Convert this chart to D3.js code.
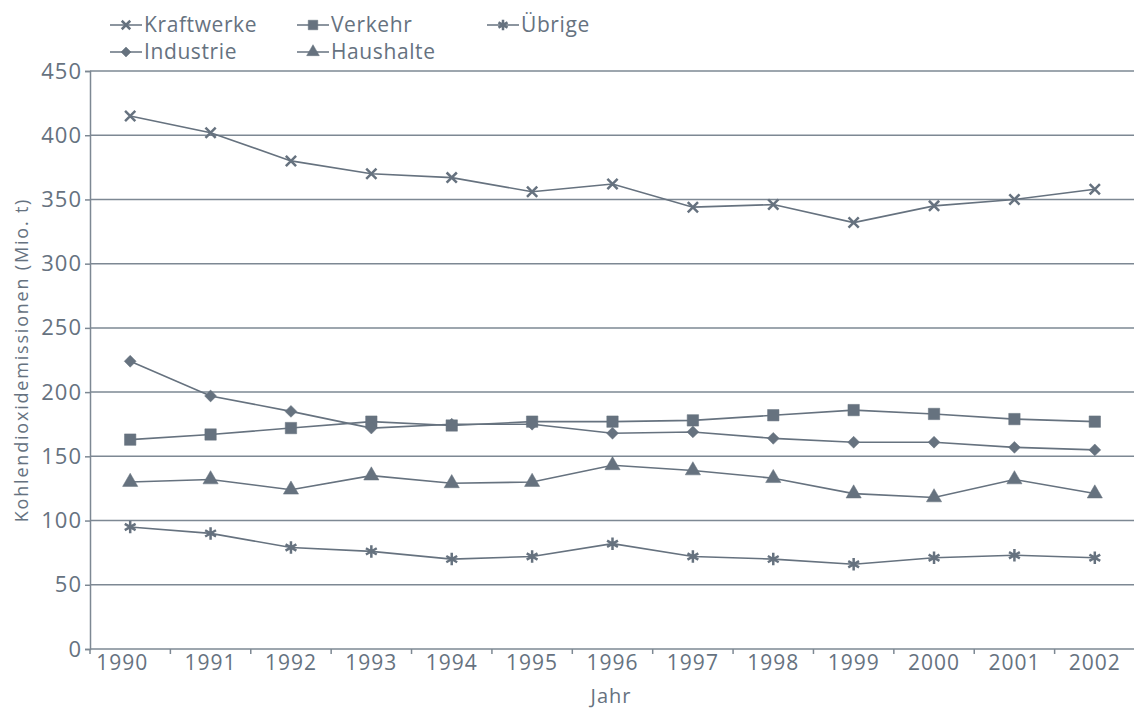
<!DOCTYPE html>
<html>
<head>
<meta charset="utf-8">
<script src="https://cdn.jsdelivr.net/npm/d3@7"></script>
<style>
  body { margin: 0; background: #fff; }
  text { font-family: "Open Sans", Lato, sans-serif; fill: #66727f; }
</style>
</head>
<body>
<div id="chart"></div>
<script>
(function(d3) {
'use strict';

var years = ['1990','1991','1992','1993','1994','1995','1996','1997','1998','1999','2000','2001','2002'];
var kraftwerke = [415, 402, 380, 370, 367, 356, 362, 344, 346, 332, 345, 350, 358];
var verkehr    = [163, 167, 172, 177, 174, 177, 177, 178, 182, 186, 183, 179, 177];
var industrie  = [224, 197, 185, 172, 175, 175, 168, 169, 164, 161, 161, 157, 155];
var haushalte  = [130, 132, 124, 135, 129, 130, 143, 139, 133, 121, 118, 132, 121];
var uebrige    = [95, 90, 79, 76, 70, 72, 82, 72, 70, 66, 71, 73, 71];
var yTicks = [0, 50, 100, 150, 200, 250, 300, 350, 400, 450];

var series = [
  { name: 'Kraftwerke', values: kraftwerke, symbol: d3.symbolTimes, size: 70, stroke: true },
  { name: 'Verkehr', values: verkehr, symbol: d3.symbolSquare, size: 130, stroke: false },
  { name: 'Übrige', values: uebrige, symbol: d3.symbolAsterisk, size: 110, stroke: true },
  { name: 'Industrie', values: industrie, symbol: d3.symbolDiamond2, size: 90, stroke: false },
  { name: 'Haushalte', values: haushalte, symbol: d3.symbolTriangle, size: 100, stroke: false }
];

var color = '#66727f';
var gridColor = '#7d8893';
var width = 1134, height = 711;
var margin = { left: 90, right: 0, top: 71, bottom: 62 };

var svg = d3.select('#chart').append('svg')
  .attr('width', width)
  .attr('height', height);

var x = d3.scaleBand()
  .domain(years)
  .range([margin.left, 1135]);

var y = d3.scaleLinear()
  .domain([0, 450])
  .range([height - margin.bottom, margin.top]);

// gridlines
svg.append('g')
  .selectAll('line')
  .data(yTicks.slice(1))
  .enter().append('line')
  .attr('x1', margin.left)
  .attr('x2', width)
  .attr('y1', function(d) { return y(d); })
  .attr('y2', function(d) { return y(d); })
  .attr('stroke', gridColor)
  .attr('stroke-width', 1.5);

// y axis
var yAxis = svg.append('g')
  .attr('transform', 'translate(' + margin.left + ',0)')
  .call(d3.axisLeft(y).tickValues(yTicks).tickSize(5).tickPadding(3));
yAxis.select('.domain').attr('stroke', gridColor).attr('stroke-width', 1.5);
yAxis.selectAll('.tick line').attr('stroke', gridColor).attr('stroke-width', 1.5);
yAxis.selectAll('.tick text')
  .attr('font-size', 22)
  .attr('letter-spacing', 1)
  .attr('font-family', '"Open Sans", sans-serif')
  .style('fill', color);

// x axis, ticks between the years
var xg = svg.append('g')
  .attr('transform', 'translate(0,' + y(0) + ')');
xg.append('line')
  .attr('x1', margin.left).attr('x2', width)
  .attr('stroke', gridColor).attr('stroke-width', 1.5);
xg.selectAll('.tk')
  .data(years)
  .enter().append('line')
  .attr('class', 'tk')
  .attr('x1', function(d) { return x(d); })
  .attr('x2', function(d) { return x(d); })
  .attr('y1', 0).attr('y2', 5)
  .attr('stroke', gridColor).attr('stroke-width', 1.5);
xg.selectAll('text')
  .data(years)
  .enter().append('text')
  .attr('x', function(d, i) { return x(d) + x.bandwidth() / 2 - (i === 0 ? 8 : 0); })
  .attr('y', 21)
  .attr('text-anchor', 'middle')
  .attr('font-size', 21)
  .attr('letter-spacing', 1)
  .text(function(d) { return d; });

// axis titles
svg.append('text')
  .attr('x', 611).attr('y', 703)
  .attr('text-anchor', 'middle')
  .attr('font-size', 20)
  .attr('letter-spacing', 1)
  .text('Jahr');

svg.append('text')
  .attr('transform', 'translate(28,' + 360 + ') rotate(-90)')
  .attr('text-anchor', 'middle')
  .attr('font-size', 18)
  .attr('letter-spacing', 1.8)
  .text('Kohlendioxidemissionen (Mio. t)');

// lines and markers
var line = d3.line()
  .x(function(d, i) { return x(years[i]) + x.bandwidth() / 2; })
  .y(function(d) { return y(d); });

function drawMarker(sel, s) {
  var path = d3.symbol().type(s.symbol).size(s.size)();
  sel.attr('d', path)
    .attr('fill', s.stroke ? 'none' : color)
    .attr('stroke', color)
    .attr('stroke-width', s.stroke ? 2.5 : 0.5);
}

series.forEach(function(s) {
  svg.append('path')
    .datum(s.values)
    .attr('d', line)
    .attr('fill', 'none')
    .attr('stroke', color)
    .attr('stroke-width', 1.6);

  svg.append('g')
    .selectAll('path')
    .data(s.values)
    .enter().append('path')
    .attr('transform', function(d, i) {
      return 'translate(' + (x(years[i]) + x.bandwidth() / 2) + ',' + y(d) + ')';
    })
    .call(drawMarker, s);
});

// legend
var legendPos = [
  { x: 110, y: 25 }, { x: 297, y: 25 }, { x: 487, y: 25 },
  { x: 110, y: 52 }, { x: 297, y: 52 }
];

series.forEach(function(s, i) {
  var g = svg.append('g')
    .attr('transform', 'translate(' + legendPos[i].x + ',' + legendPos[i].y + ')');
  g.append('line')
    .attr('x1', 0).attr('x2', 32)
    .attr('stroke', color).attr('stroke-width', 1.5);
  var ls = Object.assign({}, s, { size: s.size * 0.7 });
  g.append('path')
    .attr('transform', 'translate(16,0)')
    .call(drawMarker, ls);
  g.append('text')
    .attr('x', 34)
    .attr('dy', '0.35em')
    .attr('font-size', 21)
    .attr('letter-spacing', 0.6)
    .text(s.name);
});

})(window.d3);
</script>
</body>
</html>
